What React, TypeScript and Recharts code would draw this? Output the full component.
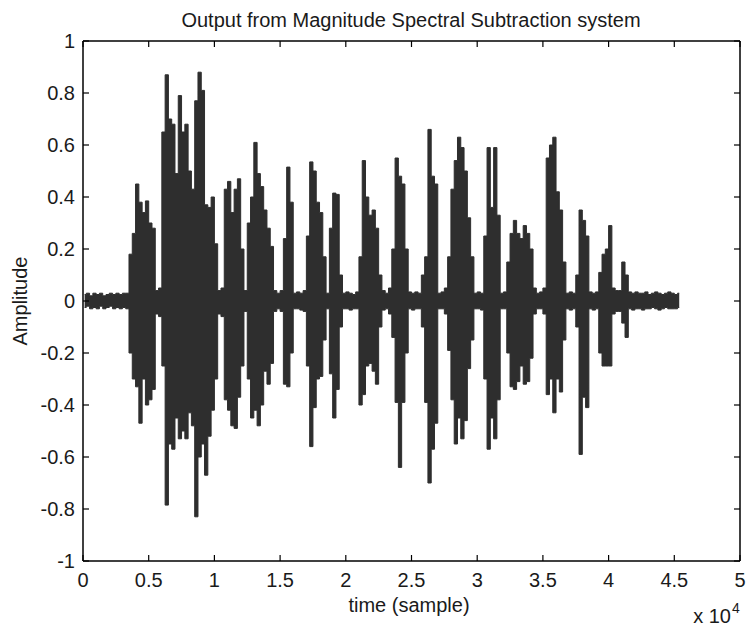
import { ComposedChart, Area, XAxis, YAxis } from "recharts";

// envelope of the waveform, one upper and one lower peak every STEP samples
const STEP = 250;

const upperPeaks = [
  0.025, 0.03, 0.02, 0.03, 0.025, 0.03, 0.02, 0.025, 0.03, 0.025,
  0.03, 0.025, 0.03, 0.03, 0.18, 0.26, 0.45, 0.38, 0.34, 0.385,
  0.3, 0.28, 0.04, 0.05, 0.65, 0.87, 0.7, 0.68, 0.49, 0.79,
  0.65, 0.68, 0.5, 0.43, 0.77, 0.88, 0.81, 0.37, 0.36, 0.4,
  0.22, 0.04, 0.05, 0.43, 0.46, 0.34, 0.43, 0.47, 0.2, 0.04,
  0.3, 0.4, 0.61, 0.49, 0.44, 0.35, 0.28, 0.21, 0.04, 0.03,
  0.04, 0.24, 0.515, 0.38, 0.03, 0.035, 0.03, 0.04, 0.25, 0.535,
  0.5, 0.38, 0.34, 0.17, 0.03, 0.28, 0.415, 0.41, 0.1, 0.03,
  0.035, 0.03, 0.025, 0.035, 0.17, 0.54, 0.4, 0.33, 0.35, 0.28,
  0.1, 0.04, 0.03, 0.05, 0.2, 0.55, 0.48, 0.45, 0.2, 0.035,
  0.03, 0.035, 0.03, 0.1, 0.17, 0.66, 0.48, 0.45, 0.03, 0.035,
  0.05, 0.17, 0.43, 0.54, 0.63, 0.59, 0.5, 0.32, 0.17, 0.03,
  0.035, 0.03, 0.25, 0.59, 0.36, 0.59, 0.33, 0.03, 0.035, 0.15,
  0.26, 0.31, 0.26, 0.24, 0.29, 0.26, 0.2, 0.05, 0.03, 0.035,
  0.05, 0.55, 0.6, 0.63, 0.42, 0.35, 0.15, 0.03, 0.035, 0.03,
  0.1, 0.35, 0.31, 0.25, 0.035, 0.03, 0.035, 0.11, 0.18, 0.2,
  0.29, 0.05, 0.04, 0.04, 0.15, 0.1, 0.035, 0.03, 0.035, 0.03,
  0.03, 0.035, 0.025, 0.03, 0.035, 0.03, 0.025, 0.03, 0.035, 0.03,
  0.025, 0.03,
];

const lowerPeaks = [
  -0.025, -0.02, -0.03, -0.025, -0.03, -0.02, -0.03, -0.025, -0.02, -0.03,
  -0.025, -0.03, -0.025, -0.03, -0.2, -0.3, -0.33, -0.47, -0.3, -0.4,
  -0.38, -0.34, -0.05, -0.06, -0.25, -0.785, -0.55, -0.57, -0.45, -0.53,
  -0.5, -0.53, -0.43, -0.48, -0.83, -0.6, -0.55, -0.67, -0.52, -0.42,
  -0.3, -0.05, -0.06, -0.38, -0.42, -0.48, -0.49, -0.37, -0.25, -0.04,
  -0.3, -0.45, -0.42, -0.48, -0.4, -0.27, -0.32, -0.24, -0.04, -0.03,
  -0.04, -0.32, -0.33, -0.2, -0.03, -0.03, -0.035, -0.04, -0.25, -0.56,
  -0.41, -0.3, -0.29, -0.15, -0.03, -0.28, -0.45, -0.34, -0.1, -0.03,
  -0.03, -0.035, -0.03, -0.03, -0.4, -0.36, -0.25, -0.24, -0.27, -0.32,
  -0.1, -0.035, -0.03, -0.05, -0.14, -0.39, -0.64, -0.39, -0.2, -0.03,
  -0.035, -0.03, -0.03, -0.1, -0.39, -0.7, -0.57, -0.47, -0.03, -0.03,
  -0.05, -0.19, -0.38, -0.55, -0.45, -0.53, -0.46, -0.26, -0.15, -0.03,
  -0.03, -0.035, -0.3, -0.57, -0.45, -0.53, -0.38, -0.03, -0.03, -0.2,
  -0.33, -0.34, -0.31, -0.25, -0.32, -0.31, -0.22, -0.05, -0.03, -0.03,
  -0.05, -0.36, -0.3, -0.43, -0.3, -0.35, -0.15, -0.03, -0.035, -0.03,
  -0.1, -0.59, -0.37, -0.41, -0.03, -0.035, -0.03, -0.2, -0.25, -0.25,
  -0.25, -0.05, -0.04, -0.04, -0.085, -0.14, -0.03, -0.035, -0.03, -0.03,
  -0.035, -0.03, -0.03, -0.025, -0.03, -0.035, -0.03, -0.025, -0.03, -0.03,
  -0.03, -0.025,
];

const xTicks = [0, 5000, 10000, 15000, 20000, 25000, 30000, 35000, 40000, 45000, 50000];
const xTickLabels = ["0", "0.5", "1", "1.5", "2", "2.5", "3", "3.5", "4", "4.5", "5"];
const yTicks = [-1, -0.8, -0.6, -0.4, -0.2, 0, 0.2, 0.4, 0.6, 0.8, 1];
const yTickLabels = ["-1", "-0.8", "-0.6", "-0.4", "-0.2", "0", "0.2", "0.4", "0.6", "0.8", "1"];

const FONT = "'Liberation Sans', Arial, Helvetica, sans-serif";
const TXT = "#1a1a1a";
const WAVE = "#2e2e2e";

// each bucket drawn as a [low, high] range
const envelope = upperPeaks.map((u, i) => ({
  t: i * STEP + STEP / 2,
  range: [lowerPeaks[i], u],
}));

const BottomTick = ({ x, y, payload }: any) => {
  const idx = xTicks.indexOf(payload.value);
  return (
    <g>
      <line x1={x} y1={y} x2={x} y2={y - 6} stroke="#000" strokeWidth={1.2} />
      <text x={x} y={y + 26} textAnchor="middle" fontSize={20} fontFamily={FONT} fill={TXT}>
        {xTickLabels[idx]}
      </text>
    </g>
  );
};

const TopTick = ({ x, y }: any) => (
  <line x1={x} y1={y} x2={x} y2={y + 6} stroke="#000" strokeWidth={1.2} />
);

const LeftTick = ({ x, y, payload }: any) => {
  const idx = yTicks.indexOf(payload.value);
  return (
    <g>
      <line x1={x} y1={y} x2={x + 6} y2={y} stroke="#000" strokeWidth={1.2} />
      <text x={x - 8} y={y + 7} textAnchor="end" fontSize={20} fontFamily={FONT} fill={TXT}>
        {yTickLabels[idx]}
      </text>
    </g>
  );
};

const RightTick = ({ x, y }: any) => (
  <line x1={x} y1={y} x2={x - 6} y2={y} stroke="#000" strokeWidth={1.2} />
);

export default function App() {
  return (
    <div style={{ position: "absolute", left: 0, top: 0, width: 747, height: 628, background: "#fff" }}>
      <ComposedChart width={747} height={628} data={envelope} margin={{ top: 31, right: 2, bottom: 37, left: 33 }}>
        <XAxis
          dataKey="t"
          type="number"
          domain={[0, 50000]}
          ticks={xTicks}
          interval={0}
          height={30}
          tickSize={0}
          tickMargin={0}
          tickLine={false}
          axisLine={{ stroke: "#000", strokeWidth: 1.5 }}
          tick={<BottomTick />}
          allowDataOverflow
        />
        <XAxis
          xAxisId="top"
          orientation="top"
          dataKey="t"
          type="number"
          domain={[0, 50000]}
          ticks={xTicks}
          interval={0}
          height={10}
          tickSize={0}
          tickMargin={0}
          tickLine={false}
          axisLine={{ stroke: "#000", strokeWidth: 1.5 }}
          tick={<TopTick />}
          allowDataOverflow
        />
        <YAxis
          type="number"
          domain={[-1, 1]}
          ticks={yTicks}
          interval={0}
          width={50}
          tickSize={0}
          tickMargin={0}
          tickLine={false}
          axisLine={{ stroke: "#000", strokeWidth: 1.5 }}
          tick={<LeftTick />}
          allowDataOverflow
        />
        <YAxis
          yAxisId="right"
          orientation="right"
          type="number"
          domain={[-1, 1]}
          ticks={yTicks}
          interval={0}
          width={5}
          tickSize={0}
          tickMargin={0}
          tickLine={false}
          axisLine={{ stroke: "#000", strokeWidth: 1.5 }}
          tick={<RightTick />}
          allowDataOverflow
        />
        <Area
          dataKey="range"
          type="step"
          stroke={WAVE}
          strokeWidth={1}
          fill={WAVE}
          fillOpacity={1}
          dot={false}
          activeDot={false}
          isAnimationActive={false}
        />
      </ComposedChart>
      <svg
        width={747}
        height={628}
        style={{ position: "absolute", left: 0, top: 0, pointerEvents: "none" }}
        fontFamily={FONT}
        fill={TXT}
      >
        <text x={411} y={27} textAnchor="middle" fontSize={20}>
          Output from Magnitude Spectral Subtraction system
        </text>
        <text x={409} y={612} textAnchor="middle" fontSize={20}>
          time (sample)
        </text>
        <text x={27} y={301} textAnchor="middle" fontSize={20} transform="rotate(-90 27 301)">
          Amplitude
        </text>
        <text x={731} y={623} textAnchor="end" fontSize={20}>
          x 10
        </text>
        <text x={732} y={613} fontSize={14}>
          4
        </text>
      </svg>
    </div>
  );
}
